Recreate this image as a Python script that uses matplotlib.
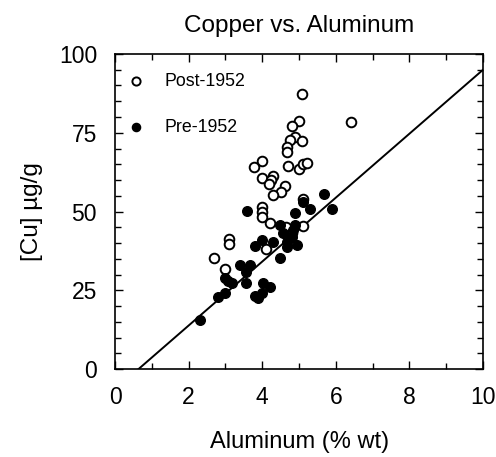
import matplotlib
matplotlib.use("Agg")
import matplotlib.pyplot as plt
from matplotlib.ticker import MultipleLocator
import numpy as np

# Post-1952 samples (open circles)
post_al = [5.09, 6.41, 5.00, 4.81, 4.90, 5.09, 4.75, 4.68, 4.68, 4.00,
           3.78, 4.70, 5.00, 5.11, 5.22, 4.00, 4.30, 4.23, 4.19, 4.62,
           4.51, 4.30, 4.00, 4.00, 4.00, 4.21, 5.11, 3.09, 3.09, 4.09,
           2.70, 3.00, 5.10, 4.64, 4.80]
post_cu = [87.3, 78.3, 78.8, 77.2, 73.8, 72.5, 72.7, 70.4, 68.8, 66.2,
           64.2, 64.6, 63.5, 65.1, 65.3, 60.8, 61.3, 60.0, 58.8, 58.1,
           56.3, 55.2, 51.6, 49.8, 48.4, 46.3, 45.5, 41.2, 39.7, 38.2,
           35.3, 31.9, 54.0, 45.1, 43.2]

# Pre-1952 samples (filled circles)
pre_al = [3.59, 5.68, 5.90, 5.29, 5.10, 4.89, 4.89, 4.48, 4.57, 4.80,
          4.66, 4.93, 4.66, 4.30, 3.98, 3.80, 4.48, 3.39, 3.67, 3.57,
          2.99, 3.17, 3.57, 4.03, 4.21, 3.80, 3.89, 3.98, 2.99, 2.79,
          2.31, 4.84, 3.08]
pre_cu = [50.2, 55.5, 50.7, 50.8, 53.2, 49.5, 45.8, 45.8, 43.1, 42.1,
          40.5, 39.4, 38.9, 40.5, 41.0, 39.1, 35.2, 33.1, 33.1, 31.0,
          28.9, 27.3, 27.5, 27.3, 26.0, 23.2, 22.5, 24.1, 24.1, 22.8,
          15.6, 44.2, 28.1]

# regression line
slope = 10.14
intercept = -6.4

plt.rcParams["font.family"] = ["Liberation Sans", "DejaVu Sans"]

fig = plt.figure(figsize=(4.96, 4.57), dpi=100)
ax = fig.add_axes([0.232, 0.192, 0.742, 0.69])

ax.scatter(post_al, post_cu, s=48, facecolors="white", edgecolors="black",
           linewidths=1.4, label="Post-1952", zorder=3)
ax.scatter(pre_al, pre_cu, s=48, facecolors="black", edgecolors="black",
           linewidths=1.0, label="Pre-1952", zorder=3)

x0 = -intercept / slope
xl = np.array([x0, 10])
ax.plot(xl, slope * xl + intercept, color="black", linewidth=1.4, zorder=2)

ax.set_xlim(0, 10)
ax.set_ylim(0, 100)
ax.xaxis.set_major_locator(MultipleLocator(2))
ax.xaxis.set_minor_locator(MultipleLocator(1))
ax.yaxis.set_major_locator(MultipleLocator(25))
ax.yaxis.set_minor_locator(MultipleLocator(5))
ax.tick_params(which="both", direction="in", top=True, right=True,
               width=1.0, labelsize=16.5)
ax.tick_params(axis="x", pad=12)
ax.tick_params(axis="y", pad=13)
ax.tick_params(which="major", length=5.5)
ax.tick_params(which="minor", length=4.5)
for sp in ax.spines.values():
    sp.set_linewidth(1.2)

ax.set_title("Copper vs. Aluminum", fontsize=17.5, pad=16)
ax.set_xlabel("Aluminum (% wt)", fontsize=17, labelpad=16)
ax.set_ylabel("[Cu] µg/g", fontsize=17.5, labelpad=11)

ax.legend(loc="upper left", frameon=False, fontsize=12.8, markerscale=0.85,
          labelspacing=1.64, handlelength=1.0, handletextpad=1.08,
          borderaxespad=0, borderpad=0, bbox_to_anchor=(0.0326, 0.94))

fig.savefig("out.png", dpi=100)
